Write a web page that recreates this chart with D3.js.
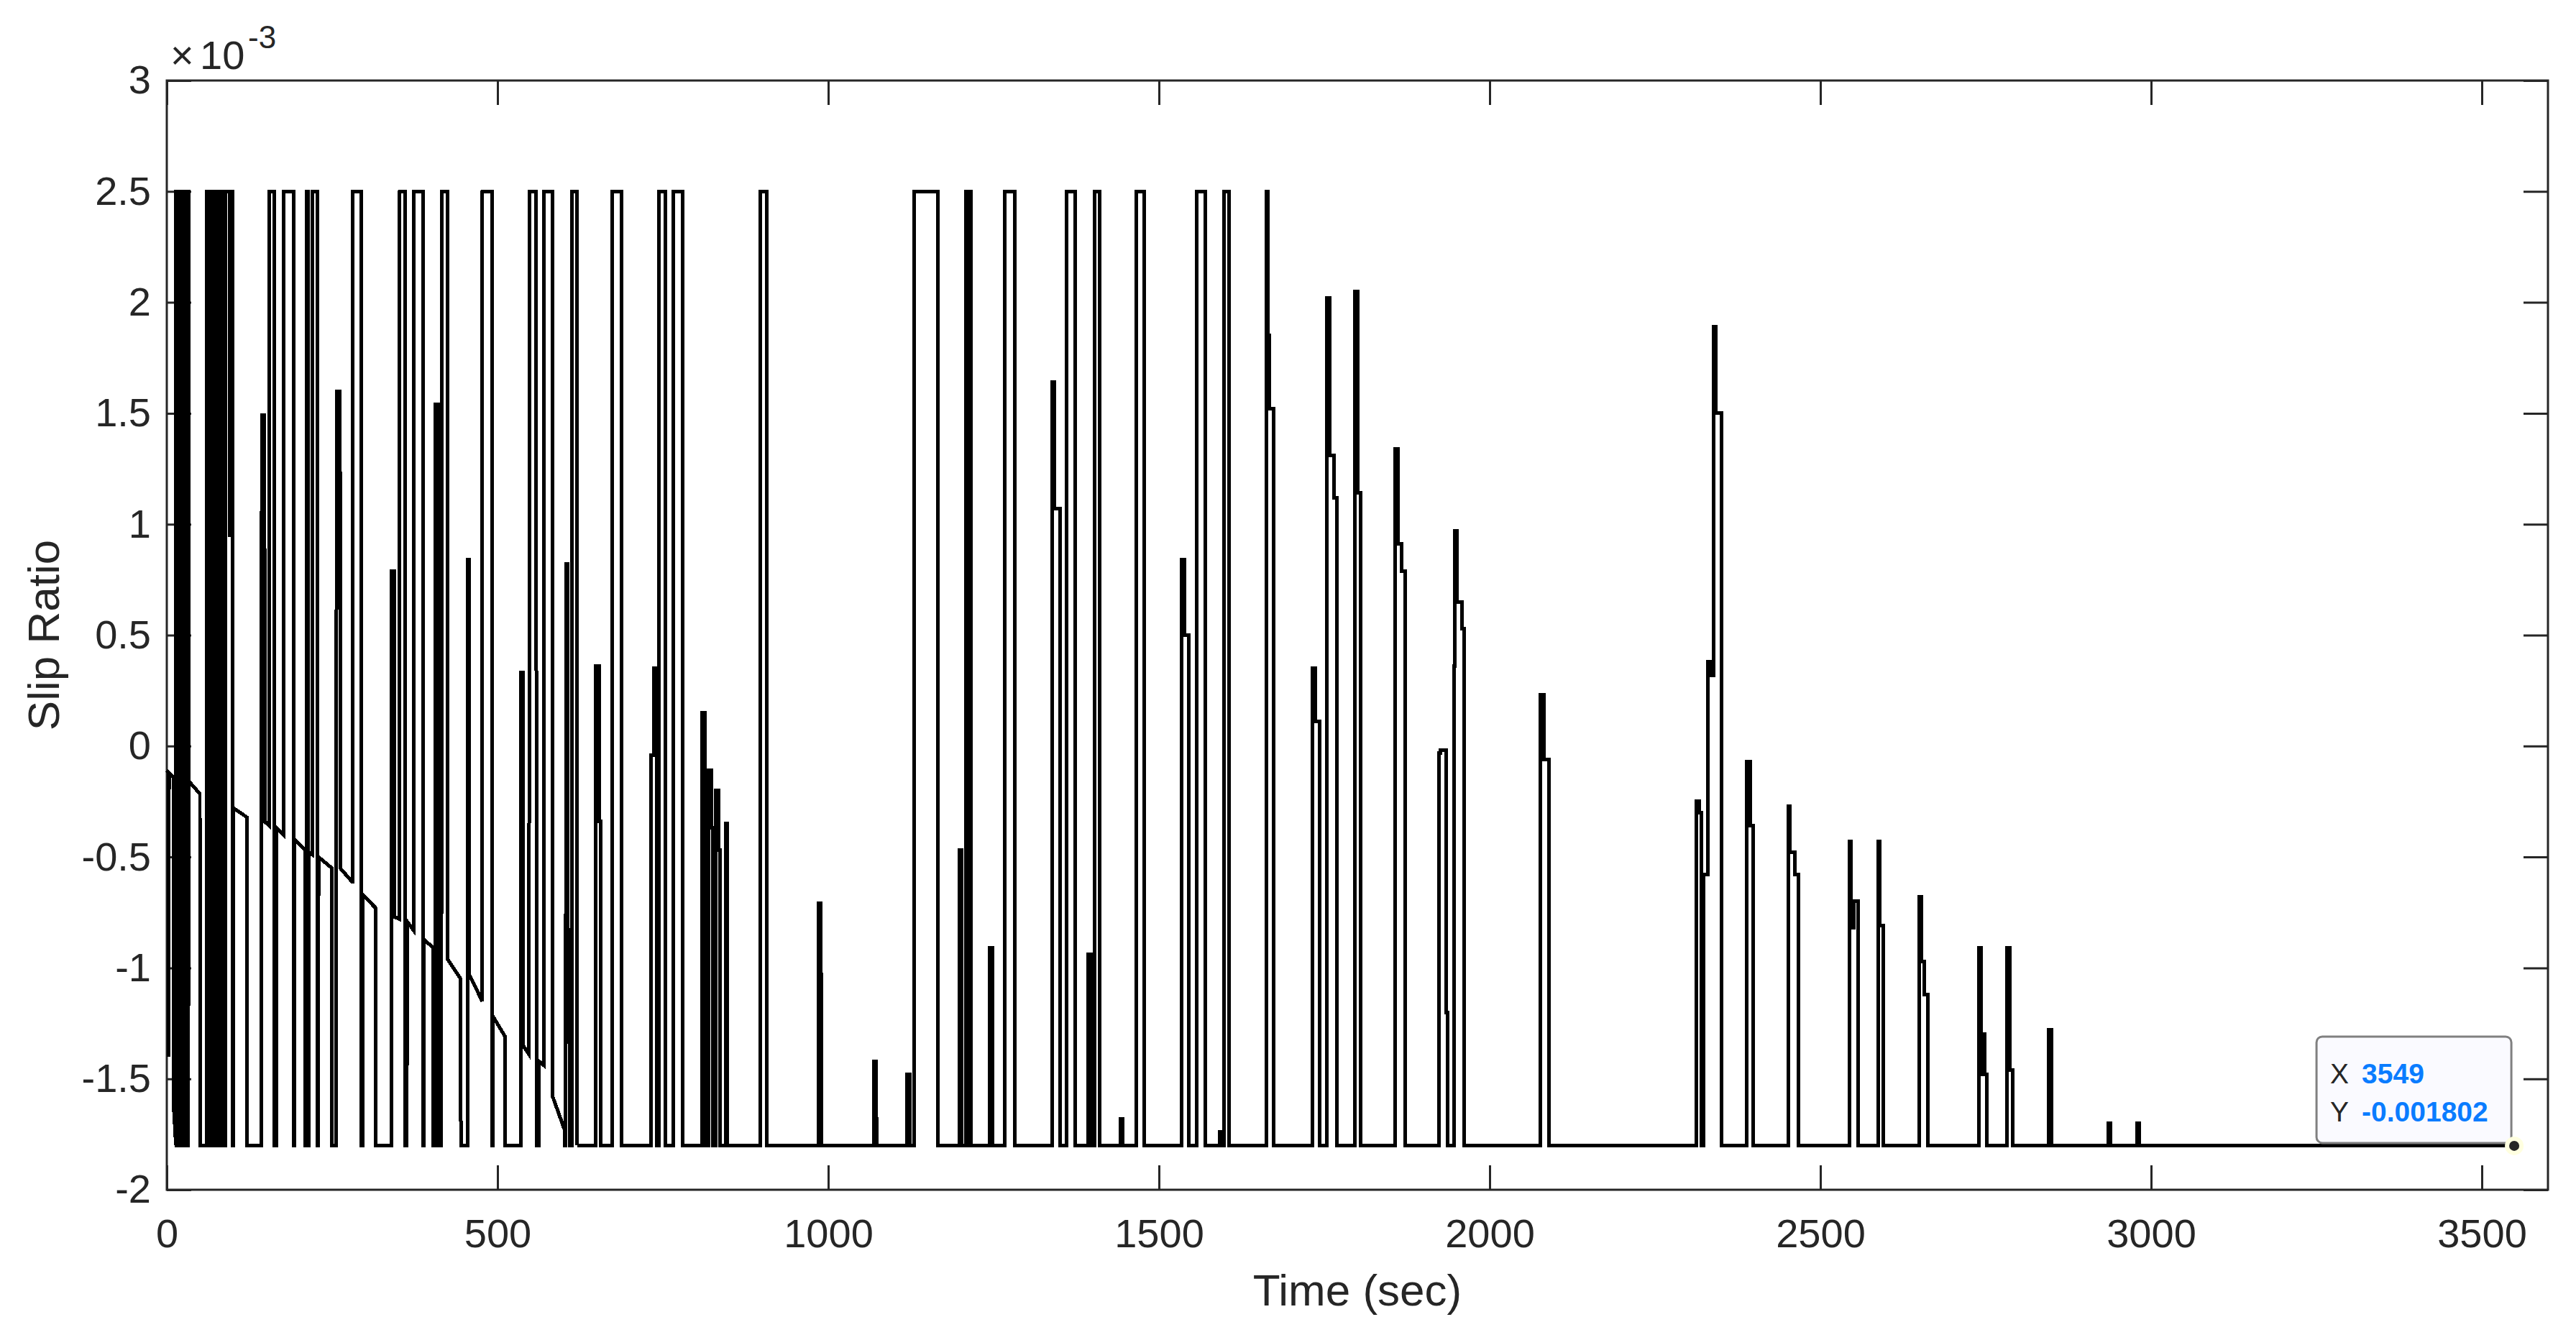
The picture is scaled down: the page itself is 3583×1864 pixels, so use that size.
<!DOCTYPE html>
<html>
<head>
<meta charset="utf-8">
<script src="https://cdn.jsdelivr.net/npm/d3@7"></script>
<style>
  body { margin: 0; background: #fff; }
  text { font-family: "Liberation Sans", Arial, Helvetica, sans-serif; fill: #262626; }
</style>
</head>
<body>
<script>
// slip ratio values are in units of 1e-3 (axis shows x10^-3)
var xTicks = [0, 500, 1000, 1500, 2000, 2500, 3000, 3500];
var yTicks = [-2, -1.5, -1, -0.5, 0, 0.5, 1, 1.5, 2, 2.5, 3];

// first part of the run: [time, slip] vertices, baseline drifts down between pulses
var driftPhase = [
  [0,-0.11],[2.9,-0.12],[3.0,-1.40],[3.3,-0.12],[10.1,-0.14],[10.3,-1.62],[13.8,-1.8],
  [14,2.5],[15,2.5],[15.2,-1.8],[16.2,-1.8],[16.4,2.5],[17.4,2.5],[17.6,-1.8],[18.6,-1.8],[18.8,2.5],
  [19.8,2.5],[20,-1.8],[21,-1.8],[21.2,2.5],[22.2,2.5],[22.4,-1.8],[23.4,-1.8],[23.6,2.5],[24.6,2.5],
  [24.8,-1.8],[25.8,-1.8],[26,2.5],[27,2.5],[27.2,-1.8],[28.2,-1.8],[28.4,2.5],[29.4,2.5],[29.6,-1.8],
  [30.6,-1.8],[30.8,2.5],[31.8,2.5],[32,-1.8],[32.6,-1.8],[32.8,2.5],[33.5,2.5],
  [33.7,-0.16],[50,-0.215],[50.2,-1.8],[60.2,-1.8],
  [60.4,2.5],[61.4,2.5],[61.6,-1.8],[62.6,-1.8],[62.8,2.5],[63.8,2.5],[64,-1.8],[65,-1.8],[65.2,2.5],
  [66.2,2.5],[66.4,-1.8],[67.4,-1.8],[67.6,2.5],[68.6,2.5],[68.8,-1.8],[69.8,-1.8],[70,2.5],[71,2.5],
  [71.2,-1.8],[72.2,-1.8],[72.4,2.5],[73.4,2.5],[73.6,-1.8],[74.6,-1.8],[74.8,2.5],[75.8,2.5],[76,-1.8],
  [77,-1.8],[77.2,2.5],[78.2,2.5],[78.4,-1.8],[79.4,-1.8],[79.6,2.5],[80.6,2.5],[80.8,-1.8],[81.8,-1.8],
  [82,2.5],[83,2.5],[83.2,-1.8],[84.2,-1.8],[84.4,2.5],[85.4,2.5],[85.6,-1.8],[86.6,-1.8],[86.8,2.5],
  [87.6,2.5],[87.8,-1.8],[88.8,-1.8],[89,2.5],[95.4,2.5],[95.5,0.95],
  [96.4,0.95],[96.5,2.5],[99,2.5],[99.2,-1.8],[100.6,-1.8],[100.8,-0.28],[120.7,-0.32],[120.9,-1.8],
  [142.5,-1.8],[142.6,1.05],[144.2,1.05],[144.3,1.49],[147.8,1.49],[147.9,-0.34],[155.2,-0.36],
  [155.3,2.5],[162.4,2.5],[162.6,-1.8],[165.8,-1.8],[166,-0.37],[176.5,-0.40],[176.7,2.5],[191.4,2.5],
  [191.6,-1.8],[193,-1.8],[193.2,-0.42],[209.5,-0.47],[209.7,-1.8],[211.5,-1.8],[211.7,2.5],[213.5,2.5],
  [213.7,-1.8],[215,-1.8],[215.2,-0.48],[220.2,-0.49],[220.4,2.5],[227.6,2.5],[227.8,-1.8],[229.2,-1.8],
  [229.4,-0.50],[249.4,-0.55],[249.6,-1.8],[256.4,-1.8],[256.6,1.60],[261.5,1.60],[261.7,1.23],[262,1.23],
  [262.2,-0.55],[279.5,-0.61],[281.3,-0.61],[281.4,2.5],[294,2.5],[294.2,-1.8],[295.8,-1.8],[296,-0.67],
  [315.8,-0.73],[316,-1.8],[339.3,-1.8],[339.4,0.79],[344,0.79],[344.2,-0.77],[352,-0.78],[352.2,2.5],
  [360,2.5],[360.2,-1.8],[363,-1.8],[363.2,-0.79],[373,-0.83],[373.2,2.5],[387.5,2.5],[387.7,-1.8],
  [388.1,-1.8],[388.3,-0.87],[402.8,-0.91],[403,-1.8],[406,-1.8],[406.2,1.54],[410.5,1.54],[410.7,-1.8],
  [415.2,-1.8],[415.4,2.5],[424.3,2.5],[424.5,-0.96],[444.4,-1.05],[444.6,-1.8],[455,-1.8],[455.2,0.84],
  [457,0.84],[457.1,-1.03],[477,-1.15],[477.2,2.5],[491.6,2.5],[491.8,-1.8],[493.2,-1.8],[493.4,-1.22],
  [511.5,-1.31],[511.7,-1.8],[535,-1.8],[535.2,0.33],[538.7,0.33],[538.9,-1.35],[547.8,-1.39],[548,2.5],
  [558.6,2.5],[558.8,-1.8],[562,-1.8],[562.2,-1.42],[570.4,-1.44],[570.6,2.5],[583.2,2.5],[583.4,-1.58],
  [601.4,-1.73],[601.6,-1.8],[603.2,-1.8],[603.4,0.82],[606,0.82],[606.2,-0.83],[608.6,-0.83],
  [608.8,-1.8],[612,-1.8],[612.2,2.5],[620.4,2.5],[620.6,-1.8]
];

// rest of the run: [time, new level] step changes, level holds until next change
var stepPhase = [
  [620.6,-1.8],[648.5,0.36],[654,-0.34],[655.7,-1.8],[673.8,2.5],[687.8,-1.8],
  [732,-0.04],[736.6,0.35],[740.2,-0.03],[741.2,-1.8],[744.5,2.5],[753.8,-1.8],[765.6,2.5],[779.9,-1.8],
  [808.7,0.15],[813.2,-0.16],[814.7,-1.8],[818.9,-0.11],[823.2,-0.37],[825.2,-1.8],
  [829.7,-0.20],[833.7,-0.47],[836.1,-1.8],[845.3,-0.35],[847.7,-1.8],[897,2.5],[907.2,-1.8],
  [985.2,-0.71],[988.2,-1.03],[989.6,-1.8],[1069.2,-1.42],[1072.2,-1.68],[1073.8,-1.8],
  [1119.2,-1.48],[1123.8,-1.8],[1130,2.5],[1165.6,-1.8],[1198.5,-0.47],[1201.8,-1.8],
  [1207.9,2.5],[1212.4,-1.8],[1213.5,2.5],[1215.4,-1.8],[1244,-0.91],[1248.6,-1.8],
  [1267,2.5],[1281.7,-1.8],[1339,1.64],[1342.2,1.07],[1350,-1.8],[1360,2.5],[1373.2,-1.8],
  [1393,-0.94],[1398.2,-1.8],[1402.6,2.5],[1410.7,-1.8],[1442,-1.68],[1444.7,-1.8],
  [1465.7,2.5],[1477.7,-1.8],[1534,0.84],[1538.9,0.50],[1545.2,-1.8],[1557.4,2.5],[1570.2,-1.8],
  [1591.7,-1.74],[1594.2,-1.8],[1598,2.5],[1605.7,-1.8],[1662,2.5],[1664.2,1.85],[1667.2,1.52],
  [1673.1,-1.8],[1732.2,0.35],[1736.8,0.11],[1743.2,-1.8],[1753.3,2.02],[1757.7,1.31],[1764.9,1.12],
  [1768.5,-1.8],[1795.7,2.05],[1800,1.14],[1804.8,-1.8],[1857.4,1.34],[1861.7,0.91],[1867.1,0.79],
  [1872.6,-1.8],
  [1923.8,-0.03],[1925.9,-0.02],[1934.7,-1.2],[1936.5,-1.8],[1945.7,0.36],[1947.6,0.97],[1950.2,0.65],
  [1958.2,0.53],[1961.5,-1.8],[2076.8,0.23],[2082,-0.06],[2089.5,-1.8],
  [2312.7,-0.25],[2317.2,-0.30],[2320.2,-1.8],[2323.2,-0.58],[2329.6,0.38],[2332.9,0.32],[2339,1.89],
  [2342,1.50],[2350.4,-1.8],[2388.9,-0.07],[2393.5,-0.36],[2398.5,-1.8],
  [2451.3,-0.27],[2454.2,-0.48],[2461.7,-0.58],[2467.1,-1.8],[2543.7,-0.43],[2546.7,-0.82],
  [2550.7,-0.70],[2557.4,-1.8],[2587.4,-0.43],[2590.2,-0.81],[2595.1,-1.8],
  [2649.8,-0.68],[2652.2,-0.97],[2657.5,-1.12],[2662.5,-1.8],[2739.7,-0.91],[2742.7,-1.48],
  [2745.7,-1.30],[2748.7,-1.48],[2751.1,-1.8],[2782.2,-0.91],[2786.7,-1.46],[2790.5,-1.8],
  [2844.6,-1.28],[2849,-1.8],[2935.2,-1.70],[2938.2,-1.8],[2979.2,-1.70],[2982.2,-1.8],[3549,-1.8]
];

var tipX = 3549, tipY = -0.001802;

var width = 3583, height = 1864;
var plot = {left: 232, right: 3544, top: 112, bottom: 1655};
var tickLen = 34;

var svg = d3.select("body").append("svg")
    .attr("width", width)
    .attr("height", height)
    .style("background", "#fff");

var x = d3.scaleLinear().domain([0, 3600]).range([plot.left, plot.right]);
var y = d3.scaleLinear().domain([-2, 3]).range([plot.bottom, plot.top]);

function styleAxis(g) {
    g.select(".domain").remove();
    g.selectAll(".tick line").attr("stroke", "#262626").attr("stroke-width", 3);
    g.selectAll(".tick text")
        .attr("font-size", 56)
        .attr("font-family", '"Liberation Sans", Arial, Helvetica, sans-serif')
        .attr("fill", "#262626");
}

svg.append("g")
    .attr("transform", "translate(0," + plot.bottom + ")")
    .call(d3.axisBottom(x).tickValues(xTicks).tickSizeInner(-tickLen).tickSizeOuter(0)
        .tickPadding(40).tickFormat(function (d) { return String(d); }))
    .call(styleAxis);

svg.append("g")
    .attr("transform", "translate(0," + plot.top + ")")
    .call(d3.axisTop(x).tickValues(xTicks).tickSizeInner(-tickLen).tickSizeOuter(0).tickFormat(""))
    .call(styleAxis);

svg.append("g")
    .attr("transform", "translate(" + plot.left + ",0)")
    .call(d3.axisLeft(y).tickValues(yTicks).tickSizeInner(-tickLen).tickSizeOuter(0)
        .tickPadding(22).tickFormat(function (d) { return String(d); }))
    .call(styleAxis);

svg.append("g")
    .attr("transform", "translate(" + plot.right + ",0)")
    .call(d3.axisRight(y).tickValues(yTicks).tickSizeInner(-tickLen).tickSizeOuter(0).tickFormat(""))
    .call(styleAxis);

// box
svg.append("rect")
    .attr("x", plot.left)
    .attr("y", plot.top)
    .attr("width", plot.right - plot.left)
    .attr("height", plot.bottom - plot.top)
    .attr("fill", "none")
    .attr("stroke", "#262626")
    .attr("stroke-width", 3);

// signal
var line = d3.line()
    .x(function (d) { return x(d[0]); })
    .y(function (d) { return y(d[1]); });
var stepLine = d3.line()
    .x(function (d) { return x(d[0]); })
    .y(function (d) { return y(d[1]); })
    .curve(d3.curveStepAfter);

[line(driftPhase), stepLine(stepPhase)].forEach(function (d) {
    svg.append("path")
        .attr("d", d)
        .attr("fill", "none")
        .attr("stroke", "#000")
        .attr("stroke-width", 5)
        .attr("shape-rendering", "crispEdges");
});

// exponent label
svg.append("text").attr("x", 237).attr("y", 96).attr("font-size", 56).text("\u00d7");
svg.append("text").attr("x", 278).attr("y", 96).attr("font-size", 56).text("10");
svg.append("text").attr("x", 345).attr("y", 67).attr("font-size", 44).text("-3");

// axis labels
svg.append("text")
    .attr("x", (plot.left + plot.right) / 2)
    .attr("y", 1816)
    .attr("text-anchor", "middle")
    .attr("font-size", 62)
    .text("Time (sec)");
svg.append("text")
    .attr("transform", "translate(82," + (plot.top + plot.bottom) / 2 + ") rotate(-90)")
    .attr("text-anchor", "middle")
    .attr("font-size", 62)
    .text("Slip Ratio");

// data tip
var cx = x(tipX), cy = y(tipY * 1000);
var boxW = 271, boxH = 148;
var bx = cx - 4 - boxW, by = cy - 4 - boxH;
svg.append("rect")
    .attr("x", bx).attr("y", by)
    .attr("width", boxW).attr("height", boxH)
    .attr("rx", 8)
    .attr("fill", "#fafaff")
    .attr("stroke", "#808080")
    .attr("stroke-width", 3);
svg.append("circle").attr("cx", cx).attr("cy", cy).attr("r", 13).attr("fill", "#ffffe0");
svg.append("circle").attr("cx", cx).attr("cy", cy).attr("r", 7).attr("fill", "#262626");

var tipRows = [["X", String(tipX)], ["Y", String(tipY)]];
tipRows.forEach(function (r, i) {
    svg.append("text")
        .attr("x", bx + 19).attr("y", by + 65 + i * 53)
        .attr("font-size", 39)
        .text(r[0]);
    svg.append("text")
        .attr("x", bx + 63).attr("y", by + 65 + i * 53)
        .attr("font-size", 39)
        .attr("font-weight", "bold")
        .style("fill", "#0a7cff")
        .text(r[1]);
});
</script>
</body>
</html>
